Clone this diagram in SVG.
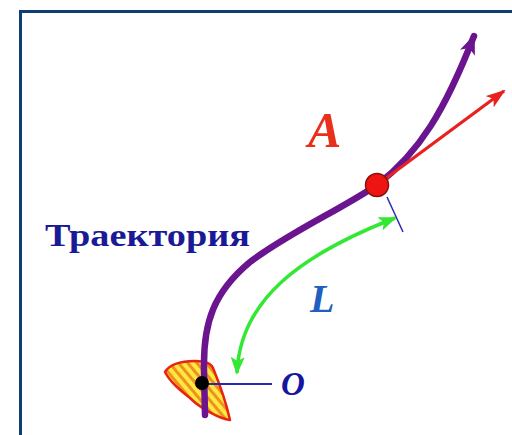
<svg xmlns="http://www.w3.org/2000/svg" width="512" height="435" viewBox="0 0 512 435">
<style>
.lbl{font-family:"Liberation Serif","Times New Roman",serif;font-weight:bold;font-style:italic}
.traj{fill:none;stroke:#6a1490;stroke-width:6.5;stroke-linecap:round}
</style>
<defs>
<marker id="ahP" viewBox="0 0 20 16" refX="18" refY="8" markerWidth="20" markerHeight="16" markerUnits="userSpaceOnUse" orient="auto"><path d="M0,0 L20,8 L0,16 L5,8 Z" fill="#6a1490"/></marker>
<marker id="ahR" viewBox="0 0 20 14" refX="18" refY="7" markerWidth="20" markerHeight="14" markerUnits="userSpaceOnUse" orient="auto"><path d="M0,0 L20,7 L0,14 L5,7 Z" fill="#e82020"/></marker>
<marker id="ahG" viewBox="0 0 18 14" refX="16" refY="7" markerWidth="18" markerHeight="14" markerUnits="userSpaceOnUse" orient="auto-start-reverse"><path d="M0,0 L18,7 L0,14 L4,7 Z" fill="#33e833"/></marker>
<pattern id="stripes" width="7" height="7" patternUnits="userSpaceOnUse" patternTransform="rotate(-40)"><rect width="7" height="7" fill="#ffe840"/><rect width="3" height="7" fill="#f09020"/></pattern>
</defs>
<rect x="20.5" y="11.5" width="600" height="500" fill="#fff" stroke="#0d3f75" stroke-width="3"/>
<g id="leaf"><path d="M165,372 C170,364 180,361 195,361 C205,361 211,363 213,368 C220,385 226,402 230,420 C220,419 200,408 190,398 C180,390 170,382 165,372 Z" fill="url(#stripes)" stroke="#e52510" stroke-width="2.5" stroke-linejoin="round"/></g>
<g id="connectors">
<path class="traj" d="M205,415 L204,370 C203,322 214,292 250,262 C290,232 340,210 377,185 C420,152 445,110 474,36" marker-end="url(#ahP)"/>
<line x1="377" y1="185" x2="504" y2="91" stroke="#e82020" stroke-width="3.2" marker-end="url(#ahR)"/>
<path d="M237,373 C240,300 300,255 395,218" fill="none" stroke="#33e833" stroke-width="3.5" marker-start="url(#ahG)" marker-end="url(#ahG)"/>
<line x1="387" y1="197" x2="403" y2="232" stroke="#2a2ab0" stroke-width="1.5"/>
<line x1="202" y1="384" x2="272" y2="384" stroke="#2a2ab0" stroke-width="2"/>
</g>
<g id="pointA"><circle cx="377" cy="185" r="11.5" fill="#ee1414" stroke="#8a1010" stroke-width="1.5"/></g>
<g id="pointO"><circle cx="202" cy="383" r="7" fill="#000"/></g>
<g id="labels">
<text x="45" y="246" font-family="Liberation Serif, Times New Roman, serif" font-weight="bold" font-size="32" fill="#1a1a96" textLength="205" lengthAdjust="spacingAndGlyphs">Траектория</text>
<text class="lbl" x="308" y="147" font-size="50" fill="#e8301c">A</text>
<text class="lbl" x="310" y="312" font-size="40" fill="#1f5fbf">L</text>
<text class="lbl" x="281" y="395" font-size="33" fill="#1515a0">O</text>
</g>
</svg>
